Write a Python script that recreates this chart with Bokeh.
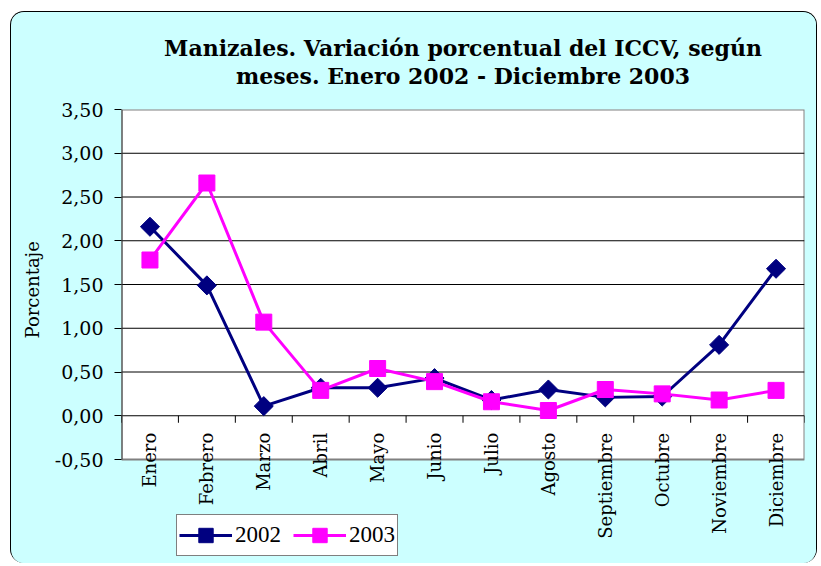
import math
from bokeh.plotting import figure
from bokeh.models import (FactorRange, Range1d, FixedTicker, Legend, LegendItem,
                          Title, CategoricalAxis)
from bokeh.embed import file_html
from bokeh.resources import INLINE

months = ["Enero", "Febrero", "Marzo", "Abril", "Mayo", "Junio", "Julio",
          "Agosto", "Septiembre", "Octubre", "Noviembre", "Diciembre"]
v2002 = [2.16, 1.49, 0.11, 0.32, 0.32, 0.43, 0.18, 0.30, 0.21, 0.22, 0.81, 1.68]
v2003 = [1.78, 2.66, 1.07, 0.29, 0.54, 0.39, 0.16, 0.06, 0.30, 0.25, 0.18, 0.29]
y_ticks = [-0.5, 0, 0.5, 1, 1.5, 2, 2.5, 3, 3.5]
y_tick_labels = ["-0,50", "0,00", "0,50", "1,00", "1,50", "2,00", "2,50", "3,00", "3,50"]
grid_values = [0, 0.5, 1, 1.5, 2, 2.5, 3]
y_min, y_max = -0.5, 3.5
series_names = ["2002", "2003"]
title_text = "Manizales. Variación porcentual del ICCV, según\nmeses. Enero 2002 - Diciembre 2003"
y_title = "Porcentaje"

SERIF = "DejaVu Serif"
NAVY = "#000080"
MAGENTA = "#FF00FF"
CYAN = "#CCFFFF"

W, H = 807, 552
TOP, LEFT, RIGHT = 97, 109, 14
PLOT_PX = 350  # pixel height of the white plotting area (y_min..y_max)
frame_h = H - TOP
y_bottom = y_max - (y_max - y_min) * frame_h / PLOT_PX

p = figure(width=W, height=H,
           x_range=FactorRange(*months, range_padding=0),
           y_range=Range1d(y_bottom, y_max),
           output_backend="svg", toolbar_location=None, title=None,
           x_axis_location=None,
           min_border_left=LEFT, min_border_right=RIGHT,
           min_border_top=TOP, min_border_bottom=0)

p.styles = {"border": "1px solid black", "border-bottom": "0px none",
            "border-radius": "14px", "margin-left": "10px", "margin-top": "11px",
            "overflow": "hidden", "background-color": CYAN}

p.border_fill_color = CYAN
p.background_fill_color = CYAN
p.outline_line_color = None
p.xgrid.grid_line_color = None
p.ygrid.grid_line_color = None

n = len(months)
# white plotting area with grey border
p.quad(left=[0], right=[n], bottom=[y_min], top=[y_max],
       fill_color="white", line_color="#808080", line_width=2)
# horizontal gridlines
p.segment(x0=[0] * len(grid_values), y0=grid_values,
          x1=[n] * len(grid_values), y1=grid_values,
          line_color="black", line_width=1)
# y axis line
p.segment(x0=[0], y0=[y_min], x1=[0], y1=[y_max], line_color="#404040", line_width=2)
# category boundary ticks below the zero line
bounds = list(range(0, n + 1))
p.segment(x0=bounds, y0=[0] * len(bounds), x1=bounds, y1=[-0.08] * len(bounds),
          line_color="black", line_width=1)

# y axis
yax = p.yaxis[0]
yax.ticker = FixedTicker(ticks=y_ticks)
yax.major_label_overrides = dict(zip(y_ticks, y_tick_labels))
yax.major_label_text_font = SERIF
yax.major_label_text_font_size = "19px"
yax.major_label_text_color = "black"
yax.major_tick_out = 7
yax.major_tick_in = 0
yax.major_tick_line_color = "black"
yax.minor_tick_line_color = None
yax.axis_line_color = None
yax.major_label_standoff = 11

# y axis title, placed alongside the white plotting area
p.add_layout(Title(text=y_title, align="left",
                   text_font=SERIF, text_font_size="18px", text_font_style="normal",
                   text_color="black", standoff=17, offset=226), "left")

# x axis crossing at zero
xax = CategoricalAxis(fixed_location=0)
xax.axis_line_color = None
xax.major_tick_line_color = None
xax.major_tick_out = 0
xax.minor_tick_line_color = None
xax.major_label_orientation = math.pi / 2
xax.major_label_text_font = SERIF
xax.major_label_text_font_size = "18px"
xax.major_label_text_color = "black"
xax.major_label_standoff = 17
p.add_layout(xax, "below")

r1 = p.line(months, v2002, line_color=NAVY, line_width=3)
s1 = p.scatter(months, v2002, marker="square", angle=math.pi / 4, size=13.5,
               fill_color=NAVY, line_color=NAVY)
r2 = p.line(months, v2003, line_color=MAGENTA, line_width=3)
s2 = p.scatter(months, v2003, marker="square", size=16,
               fill_color=MAGENTA, line_color=MAGENTA)

legend = Legend(items=[LegendItem(label=series_names[0], renderers=[r1, s1]),
                       LegendItem(label=series_names[1], renderers=[r2, s2])],
                orientation="horizontal", location=(55, 8),
                border_line_color="black", border_line_width=1,
                background_fill_color="white", background_fill_alpha=1,
                label_text_font="Liberation Serif", label_text_font_size="23px",
                label_text_color="black",
                glyph_width=53, glyph_height=36, padding=2, spacing=12,
                label_standoff=3, margin=0)
p.add_layout(legend, "center")

p.add_layout(Title(text=title_text, align="center", text_align="center",
                   text_font=SERIF, text_font_size="22px", text_font_style="bold",
                   text_color="black", text_line_height=1.08, standoff=41), "above")

open("out.html", "w").write(file_html(p, INLINE))
